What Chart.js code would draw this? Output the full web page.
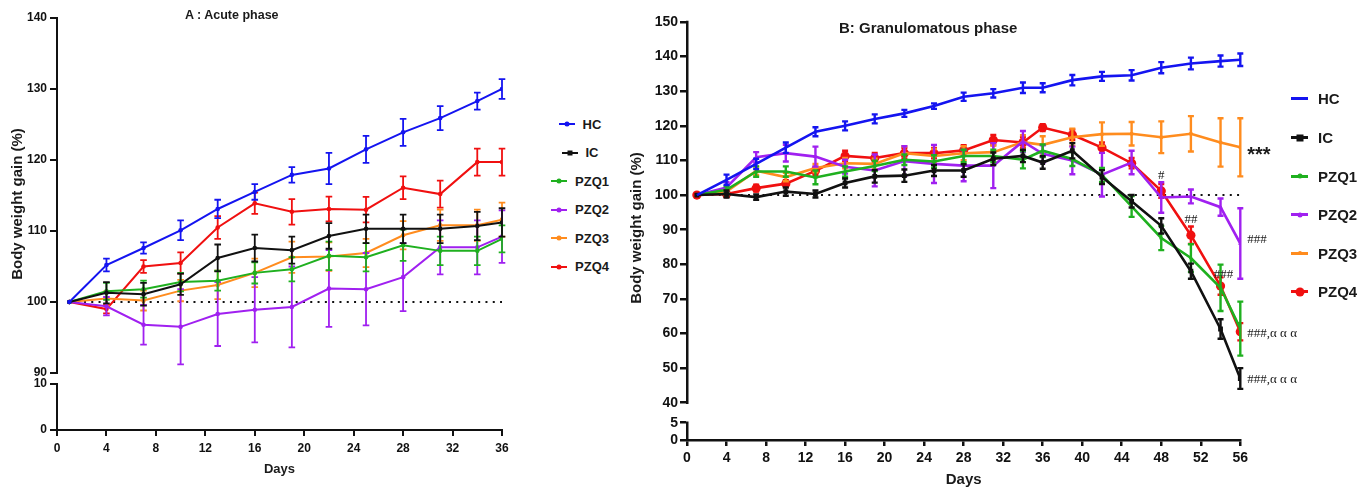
<!DOCTYPE html>
<html><head><meta charset="utf-8">
<script src="https://cdn.jsdelivr.net/npm/chart.js@4/dist/chart.umd.min.js"></script>
<style>
html,body{margin:0;padding:0;background:#fff;width:1369px;height:488px;overflow:hidden;font-family:"Liberation Sans",Arial,sans-serif;}
canvas{position:absolute;top:0;}
#cA{left:0;}
#cB{left:620px;}
.ttl{position:absolute;font-weight:bold;color:#1a1a1a;line-height:1;white-space:nowrap;}
.leg{position:absolute;display:flex;flex-direction:column;}
.row{display:flex;align-items:center;font-weight:bold;color:#1a1a1a;white-space:nowrap;}
.smp{position:relative;flex:none;}
.mk{position:absolute;left:50%;top:50%;transform:translate(-50%,-50%);}
</style></head><body>
<canvas id="cA" width="540" height="488"></canvas>
<canvas id="cB" width="749" height="488"></canvas>
<div class="ttl" style="left:185px;top:9px;font-size:12.5px">A : Acute phase</div>
<div class="ttl" style="left:839px;top:20px;font-size:15px">B: Granulomatous phase</div>
<div id="legA" class="leg" style="left:540px;top:109.75px;width:80px;align-items:center;"></div>
<div id="legB" class="leg" style="left:1291px;top:79.7px;align-items:flex-start;"></div>
<script>
// ---------- data ----------
const seriesNames = ['HC','IC','PZQ1','PZQ2','PZQ3','PZQ4'];
const seriesColors = ['#1414f0','#111111','#1fb01f','#a020f0','#ff8c1e','#f01010'];

const daysA = [1,4,7,10,13,16,19,22,25,28,31,34,36];
const xTicksA = [0,4,8,12,16,20,24,28,32,36];
const yTicksA = [0,10,90,100,110,120,130,140];
const A_HC   = [100,105.2,107.6,110.1,113.1,115.5,117.9,118.8,121.5,123.9,125.9,128.3,130.0];
const A_HC_err   = [0,0.9,0.8,1.4,1.3,1.1,1.1,2.2,1.9,1.9,1.7,1.2,1.4];
const A_IC   = [100,101.3,101.1,102.5,106.2,107.6,107.3,109.3,110.3,110.3,110.3,110.7,111.2];
const A_IC_err   = [0,1.5,1.6,1.5,1.9,1.9,1.9,1.8,2.0,2.0,2.0,2.0,2.0];
const A_PZQ1 = [100,101.5,101.8,102.8,103.0,104.1,104.6,106.5,106.3,108.0,107.2,107.2,108.9];
const A_PZQ1_err = [0,1.2,1.2,1.3,1.4,1.5,1.7,2.0,2.0,2.2,2.0,2.0,1.9];
const A_PZQ2 = [100,99.4,96.8,96.5,98.3,98.9,99.3,101.9,101.8,103.5,107.7,107.7,109.2];
const A_PZQ2_err = [0,1.3,2.8,5.3,4.5,4.6,5.7,5.4,5.1,4.8,3.8,3.8,3.7];
const A_PZQ3 = [100,100.5,100.2,101.6,102.4,104.1,106.3,106.4,106.9,109.4,110.8,110.8,111.6];
const A_PZQ3_err = [0,1.0,1.4,1.5,2.0,2.0,2.2,2.0,2.0,2.0,2.2,2.2,2.4];
const A_PZQ4 = [100,99.0,105.0,105.5,110.5,113.9,112.7,113.1,113.0,116.1,115.2,119.7,119.7];
const A_PZQ4_err = [0,0.6,0.9,1.5,1.6,1.5,1.8,1.75,1.8,1.6,1.9,1.9,1.9];

const daysB = [1,4,7,10,13,16,19,22,25,28,31,34,36,39,42,45,48,51,54,56];
const xTicksB = [0,4,8,12,16,20,24,28,32,36,40,44,48,52,56];
const yTicksB = [0,5,40,50,60,70,80,90,100,110,120,130,140,150];
const B_HC   = [100,104.4,109.0,113.7,118.3,120.0,122.0,123.6,125.7,128.4,129.4,131.0,131.0,133.2,134.3,134.6,136.8,138.0,138.7,139.1];
const B_HC_err   = [0,1.5,1.5,1.5,1.3,1.3,1.3,1.0,0.8,1.2,1.2,1.5,1.3,1.5,1.3,1.5,1.6,1.7,1.6,1.8];
const B_IC   = [100,100.3,99.4,101.0,100.3,103.5,105.4,105.6,107.1,107.1,110.5,111.3,109.4,112.8,105.2,98.2,91.1,78.0,61.3,47.0];
const B_IC_err   = [0,1.0,0.8,1.2,1.0,1.3,1.8,1.8,1.6,1.8,1.8,1.8,1.8,2.2,2.0,1.8,2.2,2.2,2.8,3.0];
const B_PZQ1 = [100,101.5,106.8,106.8,105.1,106.8,108.4,110.2,109.7,111.3,111.3,110.2,112.8,110.4,105.8,96.7,87.6,81.8,73.2,61.4];
const B_PZQ1_err = [0,1.0,1.5,1.5,2.0,1.5,1.5,1.5,1.8,1.8,1.8,2.5,1.8,2.0,2.0,3.0,3.5,4.0,6.7,7.8];
const B_PZQ2 = [100,102.2,110.9,112.1,111.1,108.2,107.1,109.8,109.0,108.5,108.5,115.5,111.9,110.0,105.9,109.4,99.3,99.6,96.5,86.0];
const B_PZQ2_err = [0,1.5,1.5,2.4,2.9,2.0,4.6,4.3,5.5,4.5,6.5,3.0,2.5,4.0,6.3,3.4,4.4,2.0,2.5,10.2];
const B_PZQ3 = [100,101.0,107.0,105.2,107.8,109.2,109.0,112.1,111.3,112.1,112.4,115.3,114.5,116.7,117.6,117.7,116.7,117.7,115.2,113.8];
const B_PZQ3_err = [0,1.0,1.2,1.2,1.2,1.5,1.5,2.0,2.0,2.0,2.0,2.0,2.5,2.5,3.4,3.4,4.6,5.1,7.0,8.4];
const B_PZQ4 = [100,100.3,102.0,103.3,107.0,111.3,110.7,112.1,112.1,112.9,115.9,115.2,119.5,117.4,113.7,109.2,101.2,88.4,73.7,60.5];
const B_PZQ4_err = [0,0.8,1.0,1.0,1.2,1.5,1.5,1.5,1.5,1.5,1.5,1.5,1.0,1.5,1.5,1.5,2.0,2.5,2.5,2.5];

const refLevel = 100;
// significance labels: [series, day, text]
const annotB = [
  ['PZQ3',56,'***'],
  ['PZQ4',48,'#'],
  ['PZQ4',51,'##'],
  ['PZQ4',54,'###'],
  ['PZQ2',56,'###'],
  ['PZQ4',56,'###,α α α'],
  ['IC',56,'###,α α α']
];

// ---------- broken linear scale ----------
const LinearScale = Chart.LinearScale || Chart.registry.getScale('linear');
class BrokenScale extends LinearScale {
  static id = 'broken';
  buildTicks(){ return this.options.brkTicks.map(v=>({value:v})); }
  _frac(v){
    const o=this.options, lo=o.brkLower, up=o.brkUpper, fl=o.brkLowerFrac, fg=o.brkGapFrac, fu=1-fl-fg;
    if (v<=lo[1]) return (v-lo[0])/(lo[1]-lo[0])*fl;
    if (v<up[0]) return fl+fg*(v-lo[1])/(up[0]-lo[1]);
    return fl+fg+(v-up[0])/(up[1]-up[0])*fu;
  }
  getPixelForValue(v){ return this.bottom - this._frac(v)*(this.bottom-this.top); }
  getValueForPixel(p){
    const o=this.options, lo=o.brkLower, up=o.brkUpper, fl=o.brkLowerFrac, fg=o.brkGapFrac, fu=1-fl-fg;
    const f=(this.bottom-p)/(this.bottom-this.top);
    if (f<=fl) return lo[0]+f/fl*(lo[1]-lo[0]);
    if (f<fl+fg) return lo[1]+(f-fl)/fg*(up[0]-lo[1]);
    return up[0]+(f-fl-fg)/fu*(up[1]-up[0]);
  }
  drawBorder(){
    const o=this.options, b=o.border;
    if(!b.display) return;
    const ctx=this.ctx, x=(this._borderValue!==undefined?this._borderValue:this.right), w=b.width;
    ctx.save(); ctx.lineWidth=w; ctx.strokeStyle=b.color; ctx.beginPath();
    for (const seg of [o.brkUpper,o.brkLower]){
      ctx.moveTo(x,this.getPixelForValue(seg[1])-w/2);
      ctx.lineTo(x,this.getPixelForValue(seg[0])+w/2);
    }
    ctx.stroke(); ctx.restore();
  }
  drawTitle(){
    const s=this.options.titleShift||0;
    this.ctx.save(); this.ctx.translate(0,s); super.drawTitle(); this.ctx.restore();
  }
}
Chart.register(BrokenScale);

// ---------- plugins ----------
const errorBars = {
  id:'errorBars',
  afterDatasetDraw(chart,args){
    const ds=chart.data.datasets[args.index];
    if(!ds.errors) return;
    const meta=args.meta, ys=chart.scales[meta.yAxisID], ctx=chart.ctx;
    ctx.save(); ctx.strokeStyle=ds.borderColor; ctx.lineWidth=ds.errWidth; ctx.lineCap='butt';
    meta.data.forEach((pt,i)=>{
      const e=ds.errors[i]; if(!e) return;
      const v=ds.data[i].y, x=pt.x, c=ds.capHalf;
      const y1=ys.getPixelForValue(v+e), y2=ys.getPixelForValue(v-e);
      ctx.beginPath();
      ctx.moveTo(x,y1); ctx.lineTo(x,y2);
      ctx.moveTo(x-c,y1); ctx.lineTo(x+c,y1);
      ctx.moveTo(x-c,y2); ctx.lineTo(x+c,y2);
      ctx.stroke();
    });
    ctx.restore();
  }
};
const sigLabels = {
  id:'sigLabels',
  afterDatasetsDraw(chart,args,opts){
    if(!opts.items) return;
    const ctx=chart.ctx; ctx.save(); ctx.fillStyle='#1a1a1a'; ctx.textBaseline='alphabetic';
    opts.items.forEach(it=>{
      const [name,day,text]=it;
      const di=chart.data.datasets.findIndex(d=>d.label===name);
      const meta=chart.getDatasetMeta(di);
      const pi=chart.data.datasets[di].data.findIndex(p=>p.x===day);
      const pt=meta.data[pi];
      const st=opts.style(name,day,text);
      ctx.font=st.font; ctx.textAlign=st.align;
      ctx.fillText(text,pt.x+st.dx,pt.y+st.dy);
    });
    ctx.restore();
  }
};

// ---------- helpers ----------
const FF='"Liberation Sans", Arial, sans-serif';
function pts(days,vals){ return days.map((d,i)=>({x:d,y:vals[i]})); }

function makeDatasets(days, vals, errs, look){
  const ds = seriesNames.map((n,i)=>({
    label:n, data:pts(days,vals[i]), errors:errs[i],
    borderColor:seriesColors[i], backgroundColor:seriesColors[i],
    borderWidth:look.lw, tension:0, fill:false,
    pointStyle:look.ps[i], pointRadius:look.pr[i], pointBorderWidth:0,
    errWidth:look.ew, capHalf:look.cap
  }));
  ds.push({label:'ref', data:[{x:days[0],y:refLevel},{x:days[days.length-1],y:refLevel}],
    borderColor:'#111', borderWidth:2, borderDash:[2,5.3], pointRadius:0, tension:0, fill:false});
  return ds;
}

function axisCommon(lw, tl){
  return {
    grid:{display:true, drawOnChartArea:false, drawTicks:true, tickLength:tl, color:'#111', lineWidth:lw, tickWidth:lw, tickColor:'#111'},
    border:{display:true, color:'#111', width:lw}
  };
}

// ---------- chart A ----------
new Chart(document.getElementById('cA'), {
  type:'line',
  data:{datasets:makeDatasets(daysA,
    [A_HC,A_IC,A_PZQ1,A_PZQ2,A_PZQ3,A_PZQ4],
    [A_HC_err,A_IC_err,A_PZQ1_err,A_PZQ2_err,A_PZQ3_err,A_PZQ4_err],
    {lw:2, ps:['circle','circle','circle','circle','circle','circle'], pr:[2.3,2.3,2.3,2.3,2.3,2.3], ew:1.8, cap:3.3})},
  options:{
    responsive:false, animation:false, devicePixelRatio:1,
    layout:{padding:{left:0,right:38,top:18,bottom:0}, autoPadding:false},
    plugins:{legend:{display:false}, tooltip:{enabled:false}},
    scales:{
      x:{type:'linear', position:'bottom', min:0, max:36,
        afterBuildTicks:s=>{s.ticks=xTicksA.map(v=>({value:v}));},
        afterFit:s=>{s.height=58;},
        ticks:{autoSkip:false, maxRotation:0, padding:5, color:'#111', font:{family:FF, size:12, weight:'bold'}},
        title:{display:true, text:'Days', color:'#1a1a1a', font:{family:FF, size:13, weight:'bold'}, padding:{top:0,bottom:11}},
        ...axisCommon(2,6)},
      y:{type:'broken', position:'left', min:0, max:140,
        brkTicks:yTicksA, brkLower:[0,10], brkUpper:[90,140], brkLowerFrac:0.1117, brkGapFrac:0.0267, titleShift:-20,
        afterFit:s=>{s.width=57;},
        ticks:{autoSkip:false, padding:3, color:'#111', font:{family:FF, size:12, weight:'bold'}},
        title:{display:true, text:'Body weight gain (%)', color:'#1a1a1a', font:{family:FF, size:15, weight:'bold'}, padding:{top:9,bottom:0}},
        ...axisCommon(2,7)}
    }
  },
  plugins:[errorBars]
});

// ---------- chart B ----------
new Chart(document.getElementById('cB'), {
  type:'line',
  data:{datasets:makeDatasets(daysB,
    [B_HC,B_IC,B_PZQ1,B_PZQ2,B_PZQ3,B_PZQ4],
    [B_HC_err,B_IC_err,B_PZQ1_err,B_PZQ2_err,B_PZQ3_err,B_PZQ4_err],
    {lw:2.6, ps:['circle','rect','triangle','triangle','circle','circle'], pr:[0,3.4,2.6,2.6,2,4.6], ew:2.4, cap:3})},
  options:{
    responsive:false, animation:false, devicePixelRatio:1,
    layout:{padding:{left:0,right:128.7,top:22,bottom:0}, autoPadding:false},
    plugins:{legend:{display:false}, tooltip:{enabled:false},
      sigLabels:{items:annotB, style:(name,day,text)=>{
        const serif='13px "Liberation Serif", "DejaVu Serif", serif';
        if(text==='***') return {font:'bold 20px '+FF, align:'left', dx:7, dy:14};
        if(name==='PZQ2') return {font:serif, align:'left', dx:7, dy:-1};
        if(text.indexOf(',')>0) return {font:serif, align:'left', dx:7, dy:5};
        if(day===48) return {font:serif, align:'center', dx:0, dy:-12};
        if(day===51) return {font:serif, align:'center', dx:0, dy:-12};
        return {font:serif, align:'center', dx:3, dy:-8};
      }}},
    scales:{
      x:{type:'linear', position:'bottom', min:0, max:56,
        afterBuildTicks:s=>{s.ticks=xTicksB.map(v=>({value:v}));},
        afterFit:s=>{s.height=48;},
        ticks:{autoSkip:false, maxRotation:0, padding:4, color:'#111', font:{family:FF, size:14, weight:'bold'}},
        title:{display:true, text:'Days', color:'#1a1a1a', font:{family:FF, size:15, weight:'bold'}, padding:{top:0,bottom:-1}},
        ...axisCommon(2.5,6)},
      y:{type:'broken', position:'left', min:0, max:150,
        brkTicks:yTicksB, brkLower:[0,5], brkUpper:[40,150], brkLowerFrac:0.0414, brkGapFrac:0.0478, titleShift:-3,
        afterFit:s=>{s.width=67;},
        ticks:{autoSkip:false, padding:2, color:'#111', font:{family:FF, size:14, weight:'bold'}},
        title:{display:true, text:'Body weight gain (%)', color:'#1a1a1a', font:{family:FF, size:15, weight:'bold'}, padding:{top:8,bottom:0}},
        ...axisCommon(2.5,7)}
    }
  },
  plugins:[errorBars, sigLabels]
});

// ---------- legends ----------
function buildLegend(el, cfg){
  seriesNames.forEach((n,i)=>{
    const row=document.createElement('div'); row.className='row';
    row.style.height=cfg.rowH+'px'; row.style.fontSize=cfg.fs+'px';
    const s=document.createElement('div'); s.className='smp';
    s.style.width=cfg.sw+'px'; s.style.height=cfg.lh+'px'; s.style.background=seriesColors[i];
    const m=cfg.marker[i];
    if(m){
      const k=document.createElement('div'); k.className='mk';
      k.style.width=m.s+'px'; k.style.height=m.s+'px'; k.style.background=seriesColors[i];
      if(m.round) k.style.borderRadius='50%';
      s.appendChild(k);
    }
    const t=document.createElement('span'); t.textContent=n; t.style.marginLeft=cfg.gap+'px';
    row.appendChild(s); row.appendChild(t); el.appendChild(row);
  });
}
const dotA={s:5,round:true};
buildLegend(document.getElementById('legA'), {rowH:28.5, fs:13, sw:16, lh:2, gap:8,
  marker:[dotA,{s:5,round:false},dotA,dotA,dotA,dotA]});
buildLegend(document.getElementById('legB'), {rowH:38.6, fs:15, sw:17, lh:3, gap:10,
  marker:[null,{s:7,round:false},{s:5,round:true},{s:5,round:true},{s:4,round:true},{s:9,round:true}]});
</script>
</body></html>
